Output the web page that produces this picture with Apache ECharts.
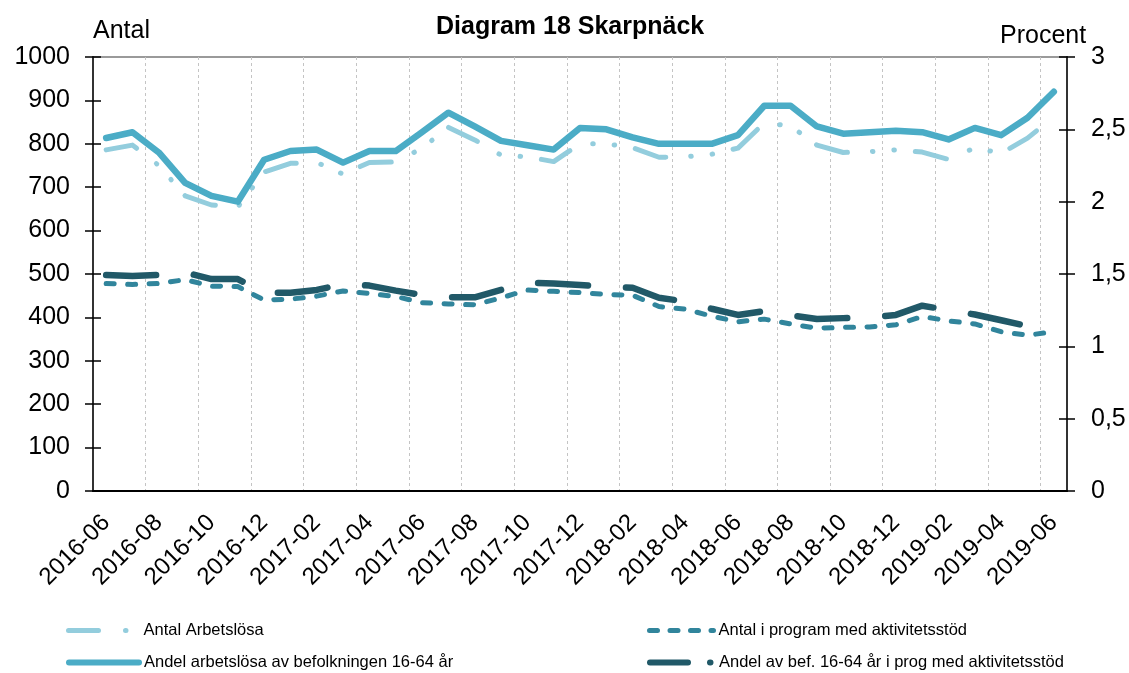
<!DOCTYPE html>
<html>
<head>
<meta charset="utf-8">
<script src="https://cdn.jsdelivr.net/npm/echarts@6/dist/echarts.min.js"></script>
<style>
  html, body { margin: 0; padding: 0; background: #fff; }
  #chart { width: 1129px; height: 673px; }
</style>
</head>
<body>
<div id="chart"></div>
<script>
// kategorier (månader)
var months = [
  "2016-06", "2016-07", "2016-08", "2016-09", "2016-10", "2016-11", "2016-12",
  "2017-01", "2017-02", "2017-03", "2017-04", "2017-05", "2017-06", "2017-07",
  "2017-08", "2017-09", "2017-10", "2017-11", "2017-12", "2018-01", "2018-02",
  "2018-03", "2018-04", "2018-05", "2018-06", "2018-07", "2018-08", "2018-09",
  "2018-10", "2018-11", "2018-12", "2019-01", "2019-02", "2019-03", "2019-04",
  "2019-05", "2019-06"
];

// vänster axel (antal)
var antalArbetslosa = [
  786, 797, 750, 680, 659, 654, 735, 755, 757, 730, 757, 758, 790, 838,
  809, 774, 770, 759, 800, 800, 791, 769, 770, 776, 790, 848, 841, 797,
  780, 782, 786, 781, 764, 791, 778, 813, 862
];
var antalProgram = [
  478, 476, 478, 487, 472, 471, 440, 442, 449, 461, 455, 448, 434, 431,
  429, 445, 463, 460, 457, 453, 451, 425, 419, 403, 390, 396, 385, 375,
  377, 378, 383, 402, 392, 385, 367, 359, 367
];

// höger axel (procent)
var andelArbetslosa = [
  2.44, 2.48, 2.34, 2.13, 2.04, 2.00, 2.29, 2.35, 2.36, 2.27, 2.35, 2.35, 2.48, 2.615,
  2.52, 2.42, 2.39, 2.36, 2.51, 2.50, 2.445, 2.40, 2.40, 2.40, 2.46, 2.663, 2.663, 2.52,
  2.47, 2.48, 2.49, 2.48, 2.43, 2.51, 2.46, 2.58, 2.76
];
var andelProgram = [
  1.493, 1.486, 1.493, 1.51, 1.465, 1.465, 1.37, 1.371, 1.39, 1.43, 1.42, 1.385, 1.355, 1.339,
  1.339, 1.39, 1.44, 1.435, 1.424, 1.41, 1.405, 1.336, 1.31, 1.26, 1.217, 1.244, 1.215, 1.189,
  1.195, 1.20, 1.217, 1.281, 1.25, 1.22, 1.18, 1.14, null
];

var font = 'Arial, "Liberation Sans", sans-serif';

var chart = echarts.init(document.getElementById("chart"));

var baseX = {
  type: "category",
  data: months,
  boundaryGap: true,
  position: "bottom"
};

// en legend per post, så att ingen radbrytning sker
function legendItem(left, top, width, item) {
  return {
    left: left, top: top, padding: 0,
    itemWidth: width, itemHeight: 14,
    itemStyle: { opacity: 0 },
    textStyle: { fontSize: 16.5, color: "#000", fontFamily: font },
    data: [item]
  };
}

chart.setOption({
  animation: false,
  textStyle: { fontFamily: font },
  title: {
    text: "Diagram 18 Skarpnäck",
    left: 431,
    top: 10,
    textStyle: { fontSize: 25, fontWeight: "bold", color: "#000", fontFamily: font }
  },
  graphic: [
    { type: "text", left: 93, top: 19, style: { text: "Antal", fontSize: 25, fill: "#000", fontFamily: font } },
    { type: "text", left: 1000, top: 24, style: { text: "Procent", fontSize: 25, fill: "#000", fontFamily: font } }
  ],
  grid: {
    left: 93, right: 62, top: 57, bottom: 182,
    show: true, borderColor: "#9a9a9a", borderWidth: 2
  },
  legend: [
    legendItem(66, 622, 70, { name: "Antal Arbetslösa",
      lineStyle: { width: 5, cap: "round", type: [30, 27, 0.5, 25] } }),
    legendItem(66, 654, 70, { name: "Andel arbetslösa av befolkningen 16-64 år",
      lineStyle: { width: 6, cap: "round", type: "solid" } }),
    legendItem(647, 622, 64, { name: "Antal i program med aktivitetsstöd",
      lineStyle: { width: 5, cap: "round", type: [8, 12.5] } }),
    legendItem(647, 654, 64, { name: "Andel av bef. 16-64 år i prog med aktivitetsstöd",
      lineStyle: { width: 6, cap: "round", type: [38, 22, 0.5, 14] } })
  ],
  xAxis: [
    Object.assign({}, baseX, {
      axisLine: { lineStyle: { color: "#000", width: 2 } },
      axisTick: { interval: 1, length: 8, lineStyle: { color: "#000", width: 1.5 } },
      axisLabel: { interval: 1, rotate: 45, fontSize: 24, margin: 28, color: "#000", fontFamily: font },
      splitLine: { show: true, interval: 1, lineStyle: { color: "#c4c4c4", width: 1, type: [3, 3] } }
    }),
    Object.assign({}, baseX, {
      axisLine: { show: false },
      axisTick: { interval: 1, inside: true, length: 8, lineStyle: { color: "#000", width: 1.5 } },
      axisLabel: { show: false },
      splitLine: { show: false }
    })
  ],
  yAxis: [
    {
      type: "value", min: 0, max: 1000, interval: 100, position: "left",
      axisLine: { show: true, lineStyle: { color: "#333", width: 2 } },
      axisTick: { show: true, length: 8, lineStyle: { color: "#000", width: 1.5 } },
      axisLabel: {
        fontSize: 25, margin: 23, color: "#000", fontFamily: font,
        formatter: function (v) { return String(v); }
      },
      splitLine: { show: false }
    },
    {
      type: "value", min: 0, max: 3, interval: 0.5, position: "right",
      axisLine: { show: true, lineStyle: { color: "#333", width: 2 } },
      axisTick: { show: true, length: 8, lineStyle: { color: "#000", width: 1.5 } },
      axisLabel: {
        fontSize: 25, margin: 24, color: "#000", fontFamily: font,
        formatter: function (v) { return String(v).replace(".", ","); }
      },
      splitLine: { show: false }
    },
    {
      type: "value", min: 0, max: 1000, interval: 100, position: "left",
      axisLine: { show: false },
      axisTick: { show: true, inside: true, length: 8, lineStyle: { color: "#000", width: 1.5 } },
      axisLabel: { show: false },
      splitLine: { show: false }
    },
    {
      type: "value", min: 0, max: 3, interval: 0.5, position: "right",
      axisLine: { show: false },
      axisTick: { show: true, inside: true, length: 8, lineStyle: { color: "#000", width: 1.5 } },
      axisLabel: { show: false },
      splitLine: { show: false }
    }
  ],
  series: [
    {
      name: "Antal Arbetslösa",
      type: "line", yAxisIndex: 0, symbol: "none",
      data: antalArbetslosa,
      itemStyle: { color: "#93cddd" },
      lineStyle: { color: "#93cddd", width: 5, cap: "round", join: "round", type: [32, 25, 0.5, 21, 0.5, 21] }
    },
    {
      name: "Antal i program med aktivitetsstöd",
      type: "line", yAxisIndex: 0, symbol: "none",
      data: antalProgram,
      itemStyle: { color: "#31859c" },
      lineStyle: { color: "#31859c", width: 5, cap: "round", join: "round", type: [8, 13.5] }
    },
    {
      name: "Andel arbetslösa av befolkningen 16-64 år",
      type: "line", yAxisIndex: 1, symbol: "none",
      data: andelArbetslosa,
      itemStyle: { color: "#4bacc6" },
      lineStyle: { color: "#4bacc6", width: 6.5, cap: "round", join: "round" }
    },
    {
      name: "Andel av bef. 16-64 år i prog med aktivitetsstöd",
      type: "line", yAxisIndex: 1, symbol: "none",
      data: andelProgram,
      itemStyle: { color: "#215968" },
      lineStyle: { color: "#215968", width: 6.5, cap: "round", join: "round", type: [50, 38] }
    }
  ]
});

window.onresize = function () {
  chart.resize();
};
</script>
</body>
</html>
